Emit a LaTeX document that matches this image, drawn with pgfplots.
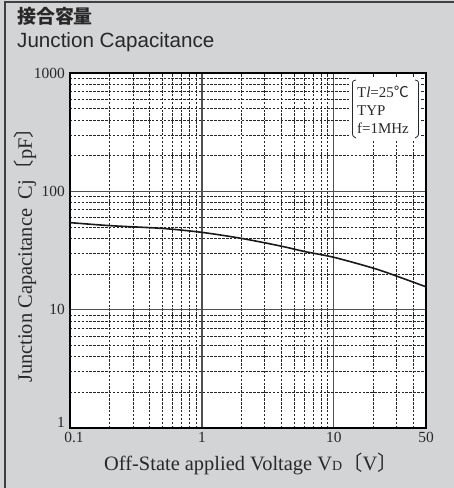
\documentclass[border=0pt]{standalone}
\usepackage{fontspec}
\setmainfont{Liberation Serif}
\newfontfamily\sansfont{Liberation Sans}
\newfontfamily\cjk{Noto Sans CJK JP}
\usepackage{pgfplots}
\pgfplotsset{compat=1.18}

\definecolor{panel}{RGB}{211,212,214}
\definecolor{majgrid}{RGB}{80,80,80}
\definecolor{txt}{RGB}{40,40,40}

\pgfplotstableread{
v    cj
0.1  54.4
0.2  51.3
0.5  48.6
1    45.0
2    40.0
4    34.4
6    31.0
10   27.7
20   22.4
30   19.2
50   15.6
}\cjdata

\begin{document}
\begin{tikzpicture}[x=1bp,y=1bp]
\path[use as bounding box] (-70,-60) rectangle (384,428);
\fill[panel] (-70,-60) rectangle (384,428);
\draw[line width=1.5bp, color=black!75] (-65,-60) -- (-65,426) -- (384,426);

\node[anchor=base west, inner sep=0pt, text=txt, font=\cjk\bfseries\fontsize{19}{19}\selectfont] at (-53,404) {接合容量};
\node[anchor=base west, inner sep=0pt, text=txt, font=\sansfont\fontsize{20.7}{20.7}\selectfont] at (-53,380) {Junction Capacitance};

\begin{axis}[
  name=ax, at={(0,0)}, anchor=south west,
  scale only axis, width=356bp, height=355bp,
  xmode=log, ymode=log,
  xmin=0.1, xmax=50, ymin=1, ymax=1000,
  xtick={1,10,50}, xticklabels={1,10,50},
  extra x ticks={0.1}, extra x tick labels={0.1},
  extra x tick style={grid=none, xticklabel style={xshift=4bp}},
  ytick={10,100,1000}, yticklabels={10,100,1000},
  extra y ticks={1}, extra y tick labels={1},
  extra y tick style={grid=none, yticklabel style={anchor=south east}},
  minor xtick={0.2,0.3,0.4,0.5,0.6,0.7,0.8,0.9,2,3,4,5,6,7,8,9,20,30,40},
  minor ytick={2,3,4,5,6,7,8,9,20,30,40,50,60,70,80,90,200,300,400,500,600,700,800,900},
  grid=both,
  major grid style={color=majgrid, line width=1.2bp},
  minor grid style={color=black!85, line width=0.7bp, dash pattern=on 2.5bp off 1.4bp},
  major tick length=0pt, minor tick length=0pt,
  axis line style={black, line width=1.4bp},
  axis background/.style={fill=white},
  xticklabel style={anchor=north, inner sep=0pt, yshift=-4bp, text=txt, font=\fontsize{15.5}{15.5}\selectfont},
  yticklabel style={anchor=east, inner sep=0pt, xshift=-5bp, text=txt, font=\fontsize{15.5}{15.5}\selectfont},
]
\addplot[smooth, color=black!90, line width=1.6bp] table[x=v, y=cj] {\cjdata};
\end{axis}

% condition box
\fill[white] (280,288) rectangle (351,351);
\node[anchor=north west, inner sep=0pt, align=left, text=txt, font=\fontsize{15}{18}\selectfont] at (287,342)
  {T\textit{l}=25{\cjk ℃}\\TYP\\f=1MHz};
\draw[line width=0.8bp, color=txt] (286,348) .. controls (282.5,347) .. (282.5,343) -- (282.5,296) .. controls (282.5,292) .. (286,290);
\draw[line width=0.8bp, color=txt] (345,348) .. controls (348.5,347) .. (348.5,343) -- (348.5,296) .. controls (348.5,292) .. (345,290);

% axis titles
\node[anchor=base west, inner sep=0pt, rotate=90, text=txt, font=\fontsize{20.5}{20.5}\selectfont] at (-38,45)
  {Junction Capacitance\hspace{0.45em}Cj{\cjk 〔}pF{\cjk 〕}};
\node[anchor=base west, inner sep=0pt, text=txt, font=\fontsize{20.5}{20.5}\selectfont] at (34,-42)
  {Off-State applied Voltage V{\fontsize{14}{14}\selectfont D}{\cjk 〔}V{\cjk 〕}};
\end{tikzpicture}
\end{document}
